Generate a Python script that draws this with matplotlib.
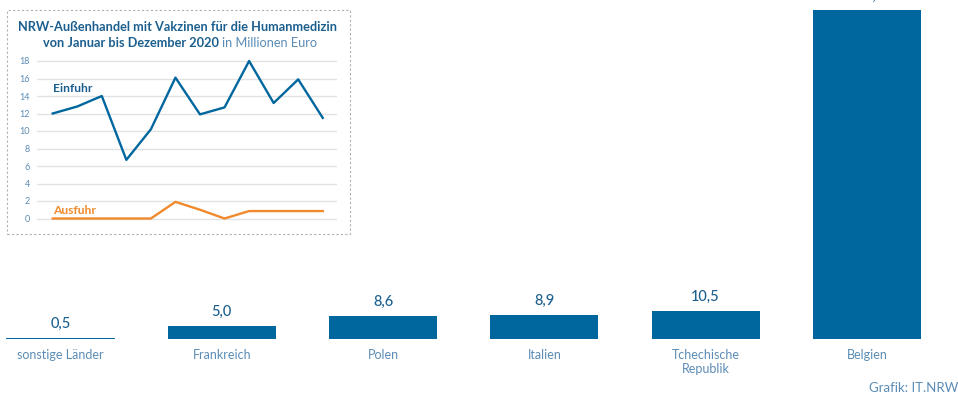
import matplotlib
matplotlib.use("Agg")
import matplotlib.pyplot as plt
from matplotlib.patches import Rectangle

plt.rcParams['font.family'] = ['Lato', 'DejaVu Sans']

# ---- data ----
countries = ["sonstige Länder", "Frankreich", "Polen", "Italien", "Tchechische\nRepublik", "Belgien"]
values = [0.5, 5.0, 8.6, 8.9, 10.5, 122.6]
value_labels = ["0,5", "5,0", "8,6", "8,9", "10,5", "122,6"]

months = list(range(1, 13))
einfuhr = [12.0, 12.8, 14.0, 6.7, 10.2, 16.1, 11.9, 12.7, 18.0, 13.2, 15.9, 11.5]
ausfuhr = [0.0, 0.0, 0.0, 0.0, 0.0, 1.9, 1.0, 0.0, 0.85, 0.85, 0.85, 0.85]
yticks_inset = [0, 2, 4, 6, 8, 10, 12, 14, 16, 18]

BAR = "#00679e"
DARK = "#1b5f8f"
LIGHT = "#5b8cb6"
ORANGE = "#f08a2c"

W, H = 958, 394
fig = plt.figure(figsize=(W / 100, H / 100), dpi=100)

def fx(px):
    return px / W

def fy(py):
    return 1 - py / H

# ---- main bar axes ----
bottom_px = 339
top_px = 10
ax = fig.add_axes([0, fy(bottom_px), 1, fy(top_px) - fy(bottom_px)])
ax.set_xlim((0 - 60.5) / 161.3, (W - 60.5) / 161.3)
ax.set_ylim(0, values[-1])
x = list(range(len(countries)))
ax.bar(x, values, width=0.67, color=BAR, edgecolor="none", clip_on=False)
for xi, v, lab in zip(x, values, value_labels):
    ax.annotate(lab, (xi, v), xytext=(0, 5), textcoords="offset points",
                ha="center", va="bottom", fontsize=10.5, color=DARK,
                fontweight="medium", annotation_clip=False)
ax.set_xticks(x)
ax.set_xticklabels(countries, fontsize=9, color=LIGHT, linespacing=1.2)
ax.tick_params(axis="x", length=0, pad=7)
ax.set_yticks([])
for s in ax.spines.values():
    s.set_visible(False)
ax.patch.set_alpha(0)

# ---- inset ----
fig.patches.append(Rectangle((fx(7), fy(234)), fx(350) - fx(7), fy(10) - fy(234),
                             transform=fig.transFigure, fill=False,
                             edgecolor="#b0b0b0", linestyle=(0, (2, 2)), linewidth=0.8))

y0, y18 = 218.5, 61.0
ppu = (y0 - y18) / 18
ylo, yhi = -0.6, 18.6
axi = fig.add_axes([fx(37), fy(y0 + (-ylo) * ppu), fx(337) - fx(37),
                    (yhi - ylo) * ppu / H])
axi.set_zorder(5)
axi.set_ylim(ylo, yhi)
xspace = 24.55
axi.set_xlim(1 + (37 - 52.7) / xspace, 1 + (337 - 52.7) / xspace)
axi.set_yticks(yticks_inset)
axi.set_yticklabels([str(t) for t in yticks_inset], fontsize=6.5, color=LIGHT)
axi.tick_params(axis="y", length=0, pad=5)
axi.set_xticks([])
axi.grid(axis="y", color="#e2e2e2", linewidth=1)
axi.set_axisbelow(True)
for s in axi.spines.values():
    s.set_visible(False)
axi.patch.set_alpha(0)
axi.plot(months, einfuhr, color=BAR, linewidth=1.7)
axi.plot(months, ausfuhr, color=ORANGE, linewidth=1.7)
axi.text(1, 14.9, "Einfuhr", color=DARK, fontsize=8.7, fontweight="bold", ha="left", va="center")
axi.text(1, 0.9, "Ausfuhr", color=ORANGE, fontsize=8.7, fontweight="bold", ha="left", va="center")

fig.text(fx(178), fy(27), "NRW-Außenhandel mit Vakzinen für die Humanmedizin",
         ha="center", va="center", fontsize=9.2, fontweight="bold", color=DARK)
fig.text(fx(219), fy(43), "von Januar bis Dezember 2020",
         ha="right", va="center", fontsize=9.2, fontweight="bold", color=DARK)
fig.text(fx(222), fy(43), "in Millionen Euro",
         ha="left", va="center", fontsize=9.2, color=LIGHT)

fig.text(fx(958), fy(388), "Grafik: IT.NRW", ha="right", va="center",
         fontsize=9.5, color=LIGHT)

fig.savefig("out.png", dpi=100)
